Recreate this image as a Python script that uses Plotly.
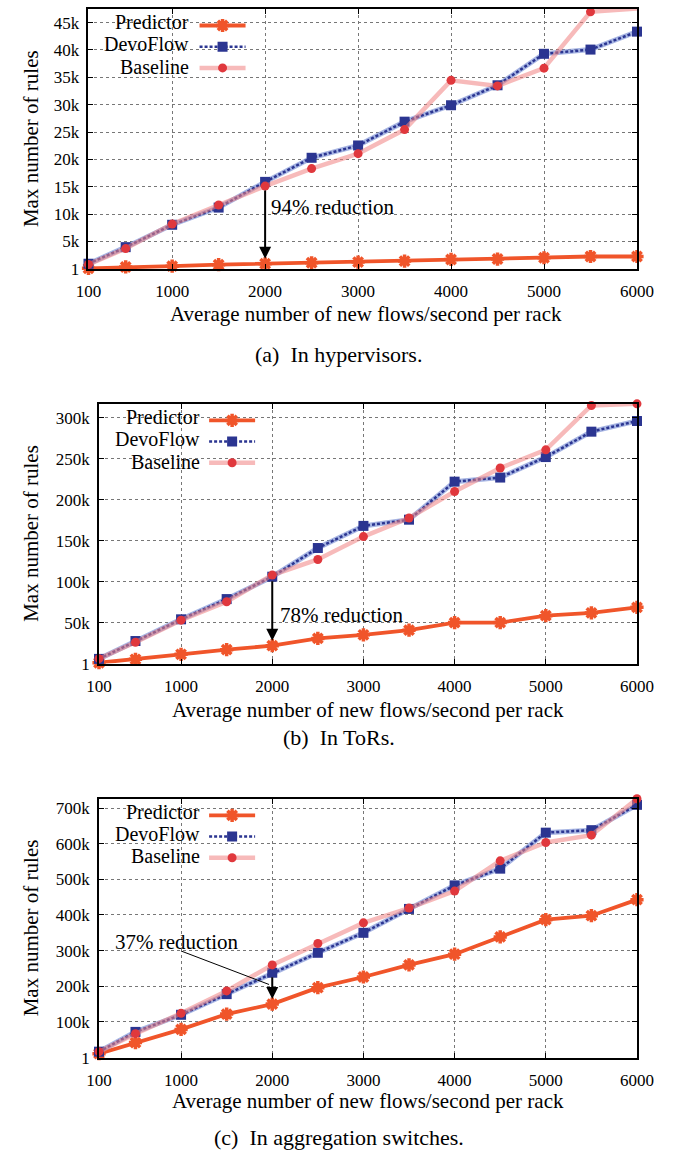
import plotly.graph_objects as go

# ---------------- data ----------------
flow_rate = [100, 500, 1000, 1500, 2000, 2500, 3000, 3500, 4000, 4500, 5000, 5500, 6000]

hyp_predictor = [100, 350, 500, 760, 940, 1120, 1250, 1430, 1720, 1800, 2030, 2260, 2260]
hyp_devoflow = [940, 3970, 8060, 11200, 15900, 20300, 22550, 26900, 29900, 33550, 39300, 40070, 43350]
hyp_baseline = [820, 3710, 8190, 11680, 15130, 18330, 21050, 25450, 34450, 33430, 36680, 46970, 47570]

tor_predictor = [1000, 5200, 11300, 17000, 21800, 30700, 35100, 40800, 50000, 50000, 58500, 61800, 68600]
tor_devoflow = [5700, 27500, 54000, 78700, 106000, 141000, 168000, 175600, 222000, 227000, 252000, 283000, 296000]
tor_baseline = [6000, 26000, 53000, 75500, 108000, 127000, 155000, 177600, 210000, 238600, 260800, 315000, 317000]

agg_predictor = [11000, 42000, 79000, 122000, 150000, 196000, 226000, 260000, 290000, 338500, 387000, 398000, 443000]
agg_devoflow = [16500, 72000, 120000, 178000, 238000, 294000, 350000, 417000, 483000, 530000, 631000, 638000, 709000]
agg_baseline = [16500, 67000, 124000, 187000, 260000, 320000, 378000, 419500, 467000, 552000, 603500, 624000, 726000]

x_ticks = [100, 1000, 2000, 3000, 4000, 5000, 6000]
hyp_yticks = [1, 5000, 10000, 15000, 20000, 25000, 30000, 35000, 40000, 45000]
hyp_ylabels = ["1", "5k", "10k", "15k", "20k", "25k", "30k", "35k", "40k", "45k"]
tor_yticks = [1, 50000, 100000, 150000, 200000, 250000, 300000]
tor_ylabels = ["1", "50k", "100k", "150k", "200k", "250k", "300k"]
agg_yticks = [1, 100000, 200000, 300000, 400000, 500000, 600000, 700000]
agg_ylabels = ["1", "100k", "200k", "300k", "400k", "500k", "600k", "700k"]

series_names = ["Predictor", "DevoFlow", "Baseline"]
captions = ["(a)  In hypervisors.", "(b)  In ToRs.", "(c)  In aggregation switches."]
reductions = ["94% reduction", "78% reduction", "37% reduction"]
x_title = "Average number of new flows/second per rack"
y_title = "Max number of rules"

# ---------------- layout constants ----------------
W, H = 675, 1167
FONT = "Liberation Serif, Times New Roman, Times, serif"
C_PRED = "#f0552a"
C_DEVO = "#2b3591"
C_DEVO_HALO = "rgba(130,150,215,0.7)"
C_BASE_LINE = "rgba(240,130,130,0.55)"
C_BASE_MARK = "#e0383d"


def px(v):
    return v / W


def py(v):
    return 1 - v / H


panels = [
    dict(pred=hyp_predictor, devo=hyp_devoflow, base=hyp_baseline,
         yt=hyp_yticks, yl=hyp_ylabels, ymax=47500,
         left=79, right=653, top=9, bottom=271.2,
         xt_x=369, xt_y=317, cap_y=358, legend_end=185, legend_x=190, block=(252, 76),
         red_pos=(2045, 11300), note_line=None),
    dict(pred=tor_predictor, devo=tor_devoflow, base=tor_baseline,
         yt=tor_yticks, yl=tor_ylabels, ymax=317000,
         left=90, right=653, top=407.3, bottom=669.3,
         xt_x=372, xt_y=716, cap_y=744, legend_end=197, legend_x=200, block=(260, 474),
         red_pos=(2060, 59700), note_line=None),
    dict(pred=agg_predictor, devo=agg_devoflow, base=agg_baseline,
         yt=agg_yticks, yl=agg_ylabels, ymax=726000,
         left=90, right=653, top=805.7, bottom=1066.7,
         xt_x=372, xt_y=1111, cap_y=1147, legend_end=197, legend_x=200, block=(260, 870),
         red_pos=(257, 324000), note_line=((990, 300000), (1965, 205000))),
]

fig = go.Figure()
annotations = []
shapes = []
layout_axes = {}

for i, p in enumerate(panels):
    n = i + 1
    xa = "x" if n == 1 else f"x{n}"
    ya = "y" if n == 1 else f"y{n}"
    leg = "legend" if n == 1 else f"legend{n}"

    # Predictor
    fig.add_trace(go.Scatter(
        x=flow_rate, y=p["pred"], xaxis=xa, yaxis=ya, legend=leg, name=" ",
        mode="lines+markers", cliponaxis=False,
        line=dict(color=C_PRED, width=3.8),
        marker=dict(symbol="asterisk-open", size=11, color=C_PRED,
                    line=dict(color=C_PRED, width=3.5)),
        hovertext=series_names[0]))
    # DevoFlow halo
    fig.add_trace(go.Scatter(
        x=flow_rate, y=p["devo"], xaxis=xa, yaxis=ya, showlegend=False,
        mode="lines", cliponaxis=False,
        line=dict(color=C_DEVO_HALO, width=5), hoverinfo="skip"))
    # DevoFlow
    fig.add_trace(go.Scatter(
        x=flow_rate, y=p["devo"], xaxis=xa, yaxis=ya, legend=leg, name=" ",
        mode="lines+markers", cliponaxis=False,
        line=dict(color=C_DEVO, width=2.5, dash="3px,2px"),
        marker=dict(symbol="square", size=10, color=C_DEVO),
        hovertext=series_names[1]))
    # Baseline
    fig.add_trace(go.Scatter(
        x=flow_rate, y=p["base"], xaxis=xa, yaxis=ya, legend=leg, name=" ",
        mode="lines+markers", cliponaxis=False,
        line=dict(color=C_BASE_LINE, width=4.5),
        marker=dict(symbol="circle", size=9, color=C_BASE_MARK),
        hovertext=series_names[2]))

    axis_common = dict(
        showline=True, linecolor="black", linewidth=1.5, mirror="allticks",
        ticks="inside", ticklen=5, tickwidth=1, tickcolor="black",
        showgrid=True, gridcolor="#777", gridwidth=1, griddash="dot",
        zeroline=False, tickfont=dict(family=FONT, size=17, color="black"),
    )
    layout_axes["xaxis" if n == 1 else f"xaxis{n}"] = dict(
        axis_common, domain=[px(p["left"]), px(p["right"])],
        range=[100, 6000], tickvals=x_ticks, anchor=ya, ticklabelstandoff=6)
    layout_axes["yaxis" if n == 1 else f"yaxis{n}"] = dict(
        axis_common, domain=[py(p["bottom"]), py(p["top"])],
        range=[1, p["ymax"]], tickvals=p["yt"], ticktext=p["yl"], anchor=xa,
        ticklabelstandoff=4)

    # legend block background (hides gridlines)
    shapes.append(dict(type="rect", xref="paper", yref="paper", layer="between",
                       x0=px(p["left"] + 1), x1=px(p["block"][0]),
                       y0=py(p["block"][1]), y1=py(p["top"] + 1),
                       fillcolor="white", line=dict(width=0)))

    layout_axes[leg] = dict(
        x=px(p["legend_x"]), y=py(p["top"] + 1), xanchor="left", yanchor="top",
        bgcolor="rgba(0,0,0,0)", borderwidth=0, itemwidth=46,
        font=dict(family=FONT, size=14, color="black"), tracegroupgap=0,
        traceorder="normal")

    # legend texts
    row0 = p["top"] + 13
    for k, nm in enumerate(series_names):
        annotations.append(dict(
            xref="paper", yref="paper", x=px(p["legend_end"]), y=py(row0 + 22.6 * k),
            xanchor="right", yanchor="middle", showarrow=False, text=nm,
            borderpad=0,
            font=dict(family=FONT, size=20, color="black")))

    # axis titles and caption
    annotations.append(dict(
        xref="paper", yref="paper", x=px(p["xt_x"]), y=py(p["xt_y"]),
        xanchor="center", yanchor="middle", showarrow=False, text=x_title,
        font=dict(family=FONT, size=21, color="black")))
    annotations.append(dict(
        xref="paper", yref="paper", x=px(19), y=py((p["top"] + p["bottom"]) / 2),
        xanchor="center", yanchor="middle", showarrow=False, text=y_title,
        textangle=-90, font=dict(family=FONT, size=21, color="black")))
    annotations.append(dict(
        xref="paper", yref="paper", x=px(341), y=py(p["cap_y"]),
        xanchor="center", yanchor="middle", showarrow=False, text=captions[i],
        font=dict(family=FONT, size=22, color="black")))

    # reduction arrow at 2000
    idx = flow_rate.index(2000)
    top_val = p["base"][idx] if i == 0 else p["devo"][idx]
    annotations.append(dict(
        xref=xa, yref=ya, axref=xa, ayref=ya,
        x=2000, y=p["pred"][idx], ax=2000, ay=top_val,
        text="", showarrow=True, arrowhead=2, arrowsize=1.2, arrowwidth=2,
        arrowcolor="black", standoff=5, startstandoff=3))
    annotations.append(dict(
        xref=xa, yref=ya, x=p["red_pos"][0], y=p["red_pos"][1],
        xanchor="left", yanchor="middle", showarrow=False, text=reductions[i],
        font=dict(family=FONT, size=21, color="black")))
    if p["note_line"] is not None:
        (x0, y0), (x1, y1) = p["note_line"]
        annotations.append(dict(
            xref=xa, yref=ya, axref=xa, ayref=ya, x=x1, y=y1, ax=x0, ay=y0,
            text="", showarrow=True, arrowhead=0, arrowwidth=1, arrowcolor="black"))

fig.update_layout(
    width=W, height=H, margin=dict(l=0, r=0, t=0, b=0),
    paper_bgcolor="white", plot_bgcolor="white",
    font=dict(family=FONT, color="black"),
    annotations=annotations, shapes=shapes, **layout_axes)

fig.write_html("out.html")
